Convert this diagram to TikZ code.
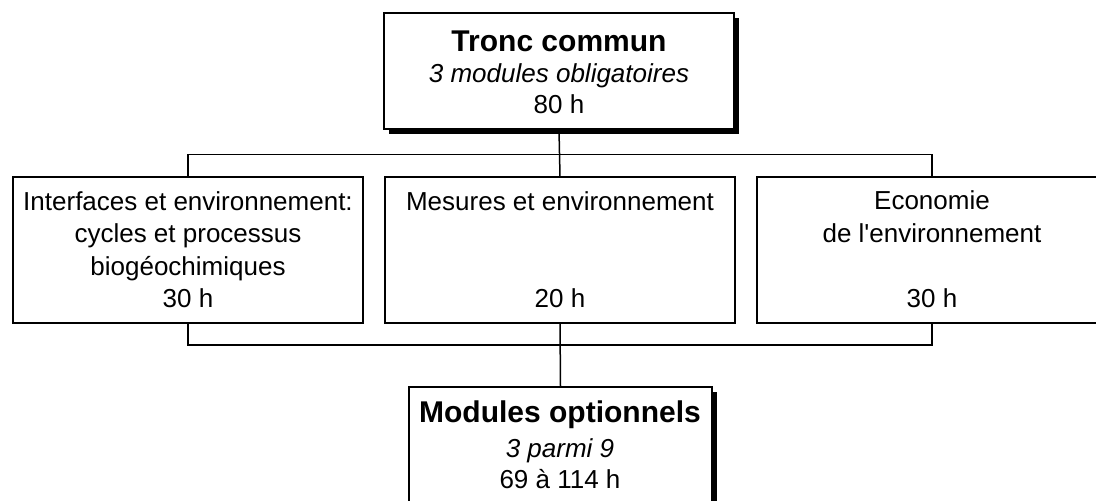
\documentclass[tikz,border=0pt]{standalone}
\usepackage{fontspec}
\setmainfont{Liberation Sans}
\begin{document}
\begin{tikzpicture}[x=1pt,y=-1pt,
  box/.style={draw=black,fill=white,line width=1.5pt,inner sep=0pt,rectangle},
  shadowbox/.style={box,preaction={fill=black,transform canvas={shift={(5pt,-5pt)}}}},
  conn/.style={line width=1.5pt},
  txt/.style={anchor=base,inner sep=0pt,font=\fontsize{26}{32}\selectfont},
  ttl/.style={anchor=base,inner sep=0pt,font=\fontsize{30}{36}\selectfont\bfseries},
  ital/.style={anchor=base,inner sep=0pt,font=\fontsize{26}{32}\selectfont\itshape}]
\useasboundingbox (0,0) rectangle (1096,501);
\clip (0,0) rectangle (1096,501);
% boxes
\node[shadowbox,minimum width=350pt,minimum height=116pt] (top) at (559,71) {};
\node[box,minimum width=350pt,minimum height=146pt] (left) at (188,250) {};
\node[box,minimum width=350pt,minimum height=146pt] (mid) at (560,250) {};
\node[box,minimum width=350pt,minimum height=146pt] (right) at (932,250) {};
\node[shadowbox,minimum width=303pt,minimum height=128pt] (bot) at (560.5,451) {};
% connectors
\draw[conn] (left.north) -- ++(0,-22) -| (right.north);
\draw[conn] (top.south) -- (mid.north);
\draw[conn] (left.south) -- ++(0,21) -| (right.south);
\draw[conn] (mid.south) -- (bot.north);
% texts
\node[ttl] (t1) at (559,51) {Tronc commun};
\node[ital] (t2) at (559,82) {3 modules obligatoires};
\node[txt] (t3) at (559,113) {80 h};
\node[txt] (l1) at (188,210) {Interfaces et environnement:};
\node[txt] (l2) at (188,242) {cycles et processus};
\node[txt] (l3) at (188,275) {biogéochimiques};
\node[txt] (l4) at (188,307) {30 h};
\node[txt] (m1) at (560,210) {Mesures et environnement};
\node[txt] (m2) at (560,307) {20 h};
\node[txt] (r1) at (932,209) {Economie};
\node[txt] (r2) at (932,242) {de l\textquotesingle environnement};
\node[txt] (r3) at (932,307) {30 h};
\node[ttl] (b1) at (560,422) {Modules optionnels};
\node[ital] (b2) at (560,457) {3 parmi 9};
\node[txt] (b3) at (560,488) {69 à 114 h};
\end{tikzpicture}
\end{document}
